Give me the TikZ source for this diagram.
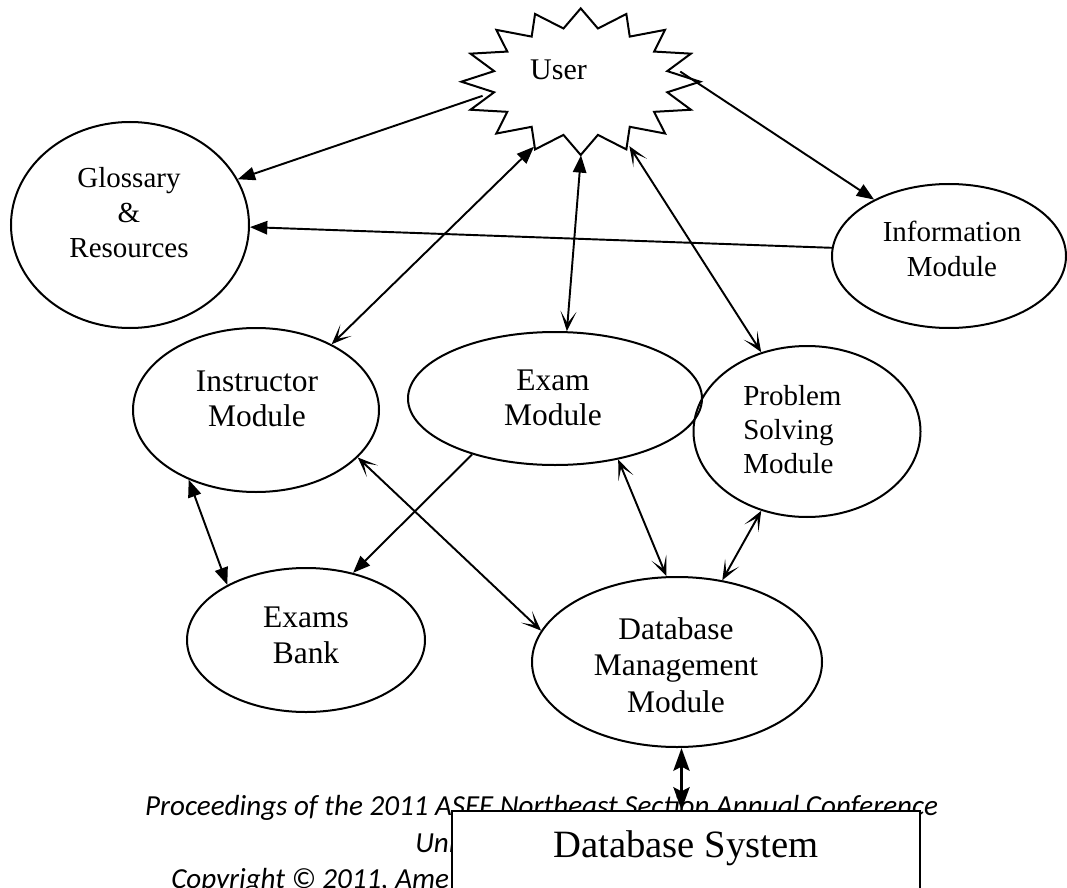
\documentclass[tikz,border=0pt]{standalone}
\usepackage{fontspec}
\setmainfont{Liberation Serif}
\newfontfamily\calibfont{Carlito}
\usetikzlibrary{arrows.meta,shapes.geometric}
\tikzset{
  ell/.style={ellipse,draw,line width=1.5pt,inner sep=0pt},
  conn/.style={line width=1.45pt},
  aF/.style={arrows={-Triangle[length=13pt,width=10pt]}},
  aFB/.style={arrows={Triangle[length=13pt,width=10pt]-Stealth[length=15pt,width=12pt,inset=9pt]}},
  aBB/.style={arrows={Stealth[length=15pt,width=12pt,inset=9pt]-Stealth[length=15pt,width=12pt,inset=9pt]}},
  aFF/.style={arrows={Triangle[length=13pt,width=10pt]-Triangle[length=13pt,width=10pt]}},
  aTT/.style={arrows={Stealth[length=17pt,width=12pt,inset=3pt]-Stealth[length=17pt,width=12pt,inset=3pt]}},
  lbl/.style={inner sep=0pt,align=center},
  bigf/.style={font=\fontsize{23.6}{26.25}\selectfont},
  midf/.style={font=\fontsize{21.75}{26.25}\selectfont},
  footf/.style={inner sep=0pt,font=\calibfont\itshape\fontsize{21.8}{26}\selectfont},
}
\begin{document}
\begin{tikzpicture}[x=0.75pt,y=-0.75pt]
\useasboundingbox (0,0) rectangle (1067,888);
\clip (0,0) rectangle (1067,888);

% star for User
\draw[line width=1.5pt,line join=miter]
  plot[samples at={0,...,31},variable=\k]
  ({580.7+119.3*(1-0.26*mod(\k,2))*cos(90+11.25*\k)},
   {81.7-73.3*(1-0.26*mod(\k,2))*sin(90+11.25*\k)}) -- cycle;
\node[ellipse,inner sep=0pt,minimum width=150pt,minimum height=109.5pt] (user) at (581,82) {};
\node[inner sep=0pt,anchor=base,font=\fontsize{22.5}{26}\selectfont] (userT) at (558.5,80) {User};

% ellipses
\node[ell,minimum width=178.5pt,minimum height=154.5pt] (gloss) at (130,225) {};
\node[ell,minimum width=175.5pt,minimum height=108pt] (info) at (949,256) {};
\node[ell,minimum width=184.5pt,minimum height=123pt] (instr) at (256,410) {};
\node[ell,minimum width=220.5pt,minimum height=99.75pt] (exam) at (555,398.5) {};
\node[ell,minimum width=170.25pt,minimum height=128.25pt] (ps) at (807,431.5) {};
\node[ell,minimum width=178.5pt,minimum height=108pt] (bank) at (306,640) {};
\node[ell,minimum width=217.5pt,minimum height=127.5pt] (dbmm) at (677,662) {};

% texts
\node[lbl,font=\fontsize{21.75}{26.25}\selectfont] (glossT) at (129,213) {Glossary\\\&\\Resources};
\node[lbl,midf] (infoT) at (952,248.5) {Information\\Module};
\node[lbl,bigf] (instrT) at (257,399) {Instructor\\Module};
\node[lbl,bigf] (examT) at (553,398) {Exam\\Module};
\node[inner sep=0pt,align=left,anchor=west,font=\fontsize{21.75}{25.5}\selectfont] (psT) at (743,430) {Problem\\Solving\\Module};
\node[lbl,font=\fontsize{23.6}{27}\selectfont] (bankT) at (306,635) {Exams\\Bank};
\node[lbl,font=\fontsize{23.6}{27.5}\selectfont] (dbmmT) at (676,665) {Database\\Management\\Module};

% connectors
\draw[conn,aF] (user.188) -- (gloss.23.7);
\draw[conn,aF] (user.6.8) -- (info.143.6);
\draw[conn,aF] (info.176.6) -- (gloss.-1);
\draw[conn,aFB] (user.234.2) -- (instr.41.3);
\draw[conn,aFB] (user.270) -- (exam.80.9);
\draw[conn,aBB] (user.307.9) -- (ps.120.5);
\draw[conn,aFF] (instr.226.3) -- (bank.145.5);
\draw[conn,aF] (exam.214.1) -- (bank.55.6);
\draw[conn,aBB] (instr.335.2) -- (dbmm.167.6);
\draw[conn,aBB] (exam.316.1) -- (dbmm.97);
\draw[conn,aBB] (ps.240.2) -- (dbmm.61.3);

% footer text (partly hidden by the box)
\node[footf,anchor=base] (foot1) at (541.5,815) {Proceedings of the 2011 ASEE Northeast Section Annual Conference};
\node[footf,anchor=base west] (foot2) at (415,852) {Uni};
\node[footf,anchor=base west] (foot3) at (171,888) {Copyright © 2011, Ame};

% database system box
\node[draw,fill=white,line width=1.5pt,inner sep=0pt,minimum width=351pt,minimum height=150pt,anchor=north] (dbs) at (686,810) {};
\node[inner sep=0pt,anchor=base,font=\fontsize{29}{34}\selectfont] (dbsT) at (686,857) {Database System};
\draw[line width=2.6pt,aTT] (dbmm.273.4) -- (dbmm.273.4 |- dbs.north);
\end{tikzpicture}
\end{document}
